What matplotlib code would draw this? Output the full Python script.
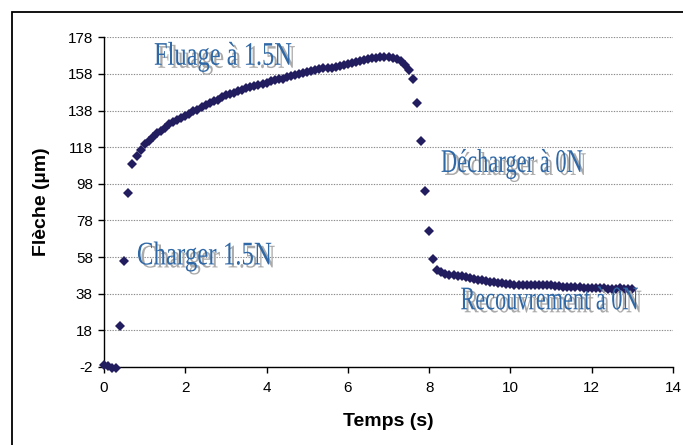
import numpy as np
import matplotlib
matplotlib.use("Agg")
import matplotlib.pyplot as plt
from matplotlib.patheffects import AbstractPathEffect
from matplotlib.transforms import Affine2D
from matplotlib.patches import Rectangle

# ---------------- data ----------------
time_s = np.round(np.arange(0, 13.05, 0.1), 1)
fleche_um = [
    -1.0, -1.5, -2.5, -2.5, 20.5, 56.0, 93.0, 109.0, 113.0, 116.5,
    119.5, 121.5, 123.5, 125.5, 127.0, 128.5, 130.5, 131.5, 133.0, 134.0,
    135.0, 136.0, 137.5, 138.5, 140.0, 141.0, 142.0, 143.0, 144.0, 145.5,
    146.5, 147.0, 147.5, 148.5, 149.5, 150.5, 151.0, 151.5, 152.0, 152.5,
    153.0, 154.0, 154.5, 155.0, 155.5, 156.5, 157.0, 157.5, 158.0, 158.5,
    159.0, 159.5, 160.0, 160.5, 161.0, 161.5, 161.5, 162.0, 162.5, 163.0,
    163.5, 164.0, 164.5, 165.0, 165.5, 166.0, 166.5, 166.5, 167.0, 167.0,
    167.0, 166.5, 166.0, 165.0, 163.0, 160.0, 155.0, 142.0, 121.5, 94.0,
    72.0, 57.0, 51.0, 50.0, 49.0, 48.5, 48.0, 47.5, 47.5, 47.0,
    46.5, 46.0, 45.5, 45.5, 45.0, 44.5, 44.5, 44.0, 44.0, 43.5,
    43.5, 43.0, 43.0, 43.0, 43.0, 43.0, 43.0, 43.0, 43.0, 43.0,
    42.5, 42.0, 42.0, 41.5, 41.5, 41.5, 41.5, 41.5, 41.0, 41.0,
    41.0, 41.0, 41.0, 41.0, 40.5, 40.5, 40.5, 41.0, 40.5, 40.5,
    40.5,
]
x_ticks = [0, 2, 4, 6, 8, 10, 12, 14]
y_ticks = [-2, 18, 38, 58, 78, 98, 118, 138, 158, 178]

annot_texts = ["Fluage à 1.5N", "Charger 1.5N", "Décharger à 0N", "Recouvrement à 0N"]
annot_x = [1.23, 0.81, 8.29, 8.77]       # data x of left edge
annot_y = [163.0, 54.0, 104.5, 29.5]     # data y of baseline
annot_w_px = [138, 135, 142, 178]        # target rendered width (pixels)

# ---------------- style helpers ----------------
class Squeeze(AbstractPathEffect):
    """Draw the text path condensed/stretched, optionally shifted/recoloured."""
    def __init__(self, sx=1.0, sy=1.0, dx=0.0, dy=0.0, color=None):
        super().__init__(offset=(0, 0))
        self.sx = sx
        self.sy = sy
        self.dx = dx
        self.dy = dy
        self.color = color

    def draw_path(self, renderer, gc, tpath, affine, rgbFace=None):
        a = (Affine2D().scale(self.sx, self.sy) + affine
             + Affine2D().translate(self.dx, -self.dy))
        gc0 = renderer.new_gc()
        gc0.copy_properties(gc)
        face = rgbFace
        if self.color is not None:
            face = matplotlib.colors.to_rgba(self.color)
        renderer.draw_path(gc0, tpath, a, face)
        gc0.restore()


W, H = 683, 445
fig = plt.figure(figsize=(W / 100, H / 100), dpi=100)
fig.patch.set_facecolor("white")

ax_left, ax_right = 104 / W, 673 / W
ax_bottom, ax_top = 1 - 367 / H, 1 - 37.3 / H
ax = fig.add_axes([ax_left, ax_bottom, ax_right - ax_left, ax_top - ax_bottom])

ax.plot(time_s, fleche_um, linestyle="none", marker="D", markersize=5.6,
        color="#221d5e", markeredgewidth=0, zorder=3, clip_on=False)

ax.set_xlim(0, 14)
ax.set_ylim(-2, 178)
ax.set_xticks(x_ticks)
ax.set_yticks(y_ticks)
ax.set_xticklabels([str(v) for v in x_ticks])
ax.set_yticklabels([str(v) for v in y_ticks])

for s in ["top", "right"]:
    ax.spines[s].set_visible(False)
for s in ["left", "bottom"]:
    ax.spines[s].set_color("black")
    ax.spines[s].set_linewidth(1.0)

ax.grid(axis="y", color="#8c8c8c", linestyle=(0, (1.2, 1.2)), linewidth=0.8)
ax.set_axisbelow(True)

ax.tick_params(axis="both", direction="out", length=4, width=1.0, colors="black",
               labelsize=11)
ax.tick_params(axis="x", pad=6)
ax.tick_params(axis="y", pad=4)
for lab in ax.get_xticklabels() + ax.get_yticklabels():
    lab.set_family("Liberation Sans")

ax.set_xlabel("Temps (s)", fontsize=14, fontweight="bold", family="Liberation Sans")
ax.set_ylabel("Flèche (µm)", fontsize=14, fontweight="bold", family="Liberation Sans")
ax.xaxis.set_label_coords((388 - 104) / 569, (367 - 421) / 329.7)
ax.xaxis.label.set_va("center")
ax.yaxis.set_label_coords((41 - 104) / 569, 0.5)
ax.yaxis.label.set_va("center")

# annotations (WordArt-like: tall condensed serif with grey drop shadow)
texts = []
for t, x, y in zip(annot_texts, annot_x, annot_y):
    shadow = Squeeze(sy=1.4, dx=3.5, dy=3.0, color="#aaaaaa")
    main = Squeeze(sy=1.4)
    txt = ax.text(x, y, t, fontsize=17, family="Liberation Serif", color="#2f68a6",
                  ha="left", va="baseline", zorder=4,
                  path_effects=[shadow, main])
    texts.append((txt, shadow, main))

fig.canvas.draw()
renderer = fig.canvas.get_renderer()
for (txt, shadow, main), wpx in zip(texts, annot_w_px):
    w = txt.get_window_extent(renderer).width
    sx = wpx / w
    shadow.sx = sx
    main.sx = sx

# outer chart-area border (cropped at right/bottom)
border = Rectangle((11.5 / W, -0.2), 2.0, (H - 11.5) / H + 0.2,
                   transform=fig.transFigure, fill=False, edgecolor="black",
                   linewidth=1.3, clip_on=False)
fig.add_artist(border)

fig.savefig("out.png", dpi=100, facecolor="white")
